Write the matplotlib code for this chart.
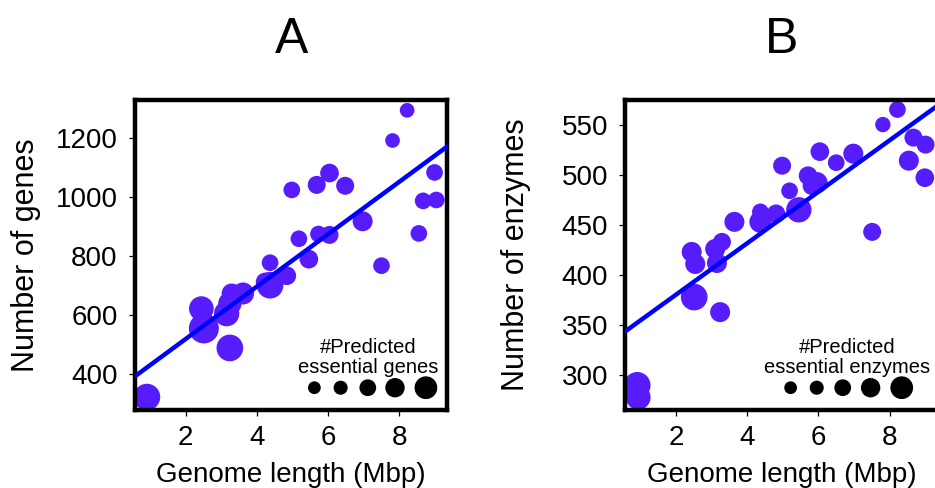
import numpy as np
import matplotlib
matplotlib.use("Agg")
import matplotlib.pyplot as plt

plt.rcParams["font.family"] = ["Liberation Sans", "DejaVu Sans"]

# panel A: genome length vs number of genes
genome_a = [8.22, 7.81, 8.99, 8.67, 9.04, 8.55, 7.50, 6.97, 6.48, 6.04,
            5.68, 4.98, 6.04, 5.73, 5.18, 5.46, 4.37, 4.84, 4.37, 4.23,
            3.61, 3.29, 3.24, 3.15, 2.44, 2.51, 3.24, 0.91]
genes_a = [1292, 1190, 1082, 986, 989, 876, 767, 917, 1037, 1080,
           1040, 1023, 871, 874, 858, 789, 777, 733, 701, 712,
           673, 673, 639, 605, 622, 555, 489, 323]
essential_a = [220, 220, 250, 250, 250, 250, 250, 300, 270, 280,
               270, 250, 270, 250, 250, 280, 250, 280, 400, 280,
               330, 300, 350, 380, 370, 450, 400, 400]

# panel B: genome length vs number of enzymes
genome_b = [8.22, 7.81, 8.67, 9.01, 8.54, 8.99, 7.51, 6.98, 6.50, 6.04,
            4.98, 5.71, 5.96, 5.82, 5.19, 5.45, 4.81, 4.37, 4.37, 3.64,
            3.29, 3.10, 3.15, 2.44, 2.54, 2.51, 3.24, 0.91, 0.94]
enzymes_b = [565, 550, 537, 530, 514, 497, 443, 521, 512, 523,
             509, 499, 492, 489, 484, 465, 461, 463, 453, 453,
             433, 426, 412, 423, 411, 378, 363, 290, 278]
essential_b = [250, 230, 270, 270, 300, 280, 270, 300, 250, 280,
               270, 280, 320, 280, 250, 380, 280, 250, 330, 300,
               270, 300, 300, 300, 300, 400, 300, 400, 370]

# linear fits (slope, intercept)
fit_a = (88.5, 342.4)
fit_b = (25.65, 329.1)

legend_levels = [170, 190, 230, 270, 320]

point_color = "#561CFB"
line_color = "#0000FF"


def marker_area(ess):
    # essential count -> scatter area in pt^2
    return (np.asarray(ess) * 0.048) ** 2


fig = plt.figure(figsize=(9.35, 4.88), dpi=100)
ax_a = fig.add_axes([0.1444, 0.1592, 0.3342, 0.6363])
ax_b = fig.add_axes([0.6688, 0.1592, 0.3342, 0.6363])

panels = [
    (ax_a, genome_a, genes_a, essential_a, fit_a, (278.3, 1327.5),
     [400, 600, 800, 1000, 1200], "Number of genes", "A",
     "essential genes", 0.7456, [0.574, 0.658, 0.745, 0.832, 0.931]),
    (ax_b, genome_b, enzymes_b, essential_b, fit_b, (265.1, 574.7),
     [300, 350, 400, 450, 500, 550], "Number of enzymes", "B",
     "essential enzymes", 0.7085, [0.529, 0.6125, 0.6957, 0.785, 0.8845]),
]

for (ax, x, y, ess, fit, ylim, yticks, ylabel, letter,
     leg_text, leg_x, leg_dots) in panels:
    ax.scatter(x, y, s=marker_area(ess), color=point_color,
               edgecolors="none", zorder=2)
    xlim = (0.576, 9.354)
    xs = np.array(xlim)
    ax.plot(xs, fit[0] * xs + fit[1], color=line_color, lw=3.2, zorder=3)
    ax.set_xlim(*xlim)
    ax.set_ylim(*ylim)
    ax.set_xticks([2, 4, 6, 8])
    ax.set_yticks(yticks)
    for sp in ax.spines.values():
        sp.set_linewidth(3.2)
    ax.tick_params(axis="both", direction="out", length=4.5, width=0.9,
                   labelsize=20)
    ax.tick_params(axis="x", pad=6)
    ax.tick_params(axis="y", pad=8)
    ax.set_xlabel("Genome length (Mbp)", fontsize=20)
    ax.set_ylabel(ylabel, fontsize=22)
    ax.xaxis.label.set_va("baseline")
    ax.xaxis.set_label_coords(0.5, -0.232)
    ax.yaxis.label.set_va("baseline")
    ax.yaxis.set_label_coords(-0.323, 0.5)

    # size key
    ax.text(leg_x, 0.1836, "#Predicted", transform=ax.transAxes,
            ha="center", va="baseline", fontsize=14.5)
    ax.text(leg_x, 0.1211, leg_text, transform=ax.transAxes,
            ha="center", va="baseline", fontsize=14.5)
    ax.scatter(leg_dots, [0.0728] * len(leg_dots),
               s=marker_area(legend_levels), color="black",
               transform=ax.transAxes, clip_on=False, zorder=4)

    pos = ax.get_position()
    fig.text(pos.x0 + pos.width / 2, 0.8914, letter, ha="center",
             va="baseline", fontsize=36)

fig.savefig("out.png", dpi=100)
